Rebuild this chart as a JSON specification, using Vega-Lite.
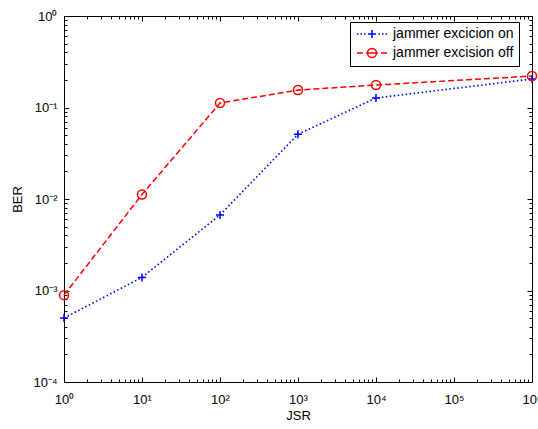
{
  "$schema": "https://vega.github.io/schema/vega-lite/v6.json",
  "width": 468,
  "height": 366,
  "autosize": {"type": "none"},
  "padding": {"left": 64, "top": 16, "right": 6, "bottom": 47},
  "background": "white",
  "config": {
    "font": "Liberation Sans",
    "view": {"stroke": null},
    "axis": {
      "domainColor": "black", "tickColor": "black", "labelColor": "black", "titleColor": "black",
      "labelFontSize": 13, "titleFontSize": 13, "titleFontWeight": "normal", "grid": false,
      "labelFont": "Liberation Sans", "titleFont": "Liberation Sans", "domainWidth": 1, "tickWidth": 1,
      "labelFlush": false, "labelOverlap": false
    },
    "legend": {"labelFont": "Liberation Sans", "labelFontSize": 14, "labelColor": "black"}
  },
  "data": {"values": [
    {"JSR": 1, "BER": 0.0005, "series": "jammer excicion on"},
    {"JSR": 10, "BER": 0.00139, "series": "jammer excicion on"},
    {"JSR": 100, "BER": 0.0067, "series": "jammer excicion on"},
    {"JSR": 1000, "BER": 0.051, "series": "jammer excicion on"},
    {"JSR": 10000, "BER": 0.127, "series": "jammer excicion on"},
    {"JSR": 1000000, "BER": 0.205, "series": "jammer excicion on"},
    {"JSR": 1, "BER": 0.00089, "series": "jammer excision off"},
    {"JSR": 10, "BER": 0.0112, "series": "jammer excision off"},
    {"JSR": 100, "BER": 0.112, "series": "jammer excision off"},
    {"JSR": 1000, "BER": 0.155, "series": "jammer excision off"},
    {"JSR": 10000, "BER": 0.176, "series": "jammer excision off"},
    {"JSR": 1000000, "BER": 0.221, "series": "jammer excision off"}
  ]},
  "layer": [
    {
      "transform": [{"filter": "datum.series == 'jammer excicion on'"}],
      "mark": {"type": "line", "strokeDash": [1.5, 2.5], "strokeWidth": 1.6},
      "encoding": {
        "x": {"field": "JSR", "type": "quantitative",
          "scale": {"type": "log", "domain": [1, 1000000], "nice": false},
          "axis": {"orient": "bottom", "values": [1, 10, 100, 1000, 10000, 100000, 1000000], "tickSize": -5,
            "labelPadding": 16, "title": "JSR", "titlePadding": 3,
            "labelExpr": "'10' + ['⁻⁴','⁻³','⁻²','⁻¹','⁰','¹','²','³','⁴','⁵','⁶'][round(log(datum.value)/LN10)+4]"}},
        "y": {"field": "BER", "type": "quantitative",
          "scale": {"type": "log", "domain": [0.0001, 1], "nice": false},
          "axis": {"orient": "left", "values": [0.0001, 0.001, 0.01, 0.1, 1], "tickSize": -5,
            "labelPadding": 12, "title": "BER", "titlePadding": 8,
            "labelExpr": "'10' + ['⁻⁴','⁻³','⁻²','⁻¹','⁰','¹','²','³','⁴','⁵','⁶'][round(log(datum.value)/LN10)+4]"}},
        "color": {"field": "series", "type": "nominal",
          "scale": {"domain": ["jammer excicion on", "jammer excision off"], "range": ["#0000ff", "#ff0000"]},
          "legend": {"title": null, "orient": "none", "legendX": 286, "legendY": 6,
            "strokeColor": "black", "fillColor": "white", "padding": 5, "symbolSize": 100,
            "symbolOffset": 10, "labelOffset": 14, "rowPadding": 4, "symbolStrokeWidth": 1.5,
            "labelExpr": "datum.label + '\u00a0\u00a0'",
            "encode": {"symbols": {"update": {
              "shape": {"signal": "datum.value == 'jammer excicion on' ? 'M-3,0H-2.7M-2.3,0H-2M-1.6,0H-1.3M-0.8,0H0.8M0,-0.8V0.8M1.3,0H1.6M2,0H2.3M2.7,0H3' : 'M-3,0H-1.8M-1.2,0H1.2M1.8,0H3M-0.9,0A0.9,0.9 0 1,0 0.9,0A0.9,0.9 0 1,0 -0.9,0'"},
              "fill": {"value": "transparent"},
              "strokeDash": {"value": []}
            }}}}}
      }
    },
    {
      "transform": [{"filter": "datum.series == 'jammer excision off'"}],
      "mark": {"type": "line", "strokeDash": [6, 3], "strokeWidth": 1.5},
      "encoding": {
        "x": {"field": "JSR", "type": "quantitative",
          "axis": {"orient": "top", "values": [1, 10, 100, 1000, 10000, 100000, 1000000], "tickSize": -5,
            "labels": false, "title": null}},
        "y": {"field": "BER", "type": "quantitative",
          "axis": {"orient": "right", "values": [0.0001, 0.001, 0.01, 0.1, 1], "tickSize": -5,
            "labels": false, "title": null}},
        "color": {"field": "series", "type": "nominal"}
      }
    },
    {
      "transform": [{"filter": "datum.series == 'jammer excicion on'"}],
      "mark": {"type": "point", "shape": "M-1,0H1M0,-1V1", "size": 64, "filled": false, "color": "#0000ff", "strokeWidth": 1.5, "opacity": 1},
      "encoding": {
        "x": {"field": "JSR", "type": "quantitative",
          "axis": {"orient": "bottom", "values": [2,3,4,5,6,7,8,9,20,30,40,50,60,70,80,90,200,300,400,500,600,700,800,900,2000,3000,4000,5000,6000,7000,8000,9000,20000,30000,40000,50000,60000,70000,80000,90000,200000,300000,400000,500000,600000,700000,800000,900000],
            "tickSize": -3, "labels": false, "domain": false, "title": null}},
        "y": {"field": "BER", "type": "quantitative",
          "axis": {"orient": "left", "values": [0.0002,0.0003,0.0004,0.0005,0.0006,0.0007,0.0008,0.0009,0.002,0.003,0.004,0.005,0.006,0.007,0.008,0.009,0.02,0.03,0.04,0.05,0.06,0.07,0.08,0.09,0.2,0.3,0.4,0.5,0.6,0.7,0.8,0.9],
            "tickSize": -3, "labels": false, "domain": false, "title": null}}
      }
    },
    {
      "transform": [{"filter": "datum.series == 'jammer excision off'"}],
      "mark": {"type": "point", "shape": "circle", "size": 81, "filled": false, "color": "#ff0000", "strokeWidth": 1.5, "opacity": 1},
      "encoding": {
        "x": {"field": "JSR", "type": "quantitative",
          "axis": {"orient": "top", "values": [2,3,4,5,6,7,8,9,20,30,40,50,60,70,80,90,200,300,400,500,600,700,800,900,2000,3000,4000,5000,6000,7000,8000,9000,20000,30000,40000,50000,60000,70000,80000,90000,200000,300000,400000,500000,600000,700000,800000,900000],
            "tickSize": -3, "labels": false, "domain": false, "title": null}},
        "y": {"field": "BER", "type": "quantitative",
          "axis": {"orient": "right", "values": [0.0002,0.0003,0.0004,0.0005,0.0006,0.0007,0.0008,0.0009,0.002,0.003,0.004,0.005,0.006,0.007,0.008,0.009,0.02,0.03,0.04,0.05,0.06,0.07,0.08,0.09,0.2,0.3,0.4,0.5,0.6,0.7,0.8,0.9],
            "tickSize": -3, "labels": false, "domain": false, "title": null}}
      }
    }
  ],
  "resolve": {"axis": {"x": "independent", "y": "independent"}}
}
